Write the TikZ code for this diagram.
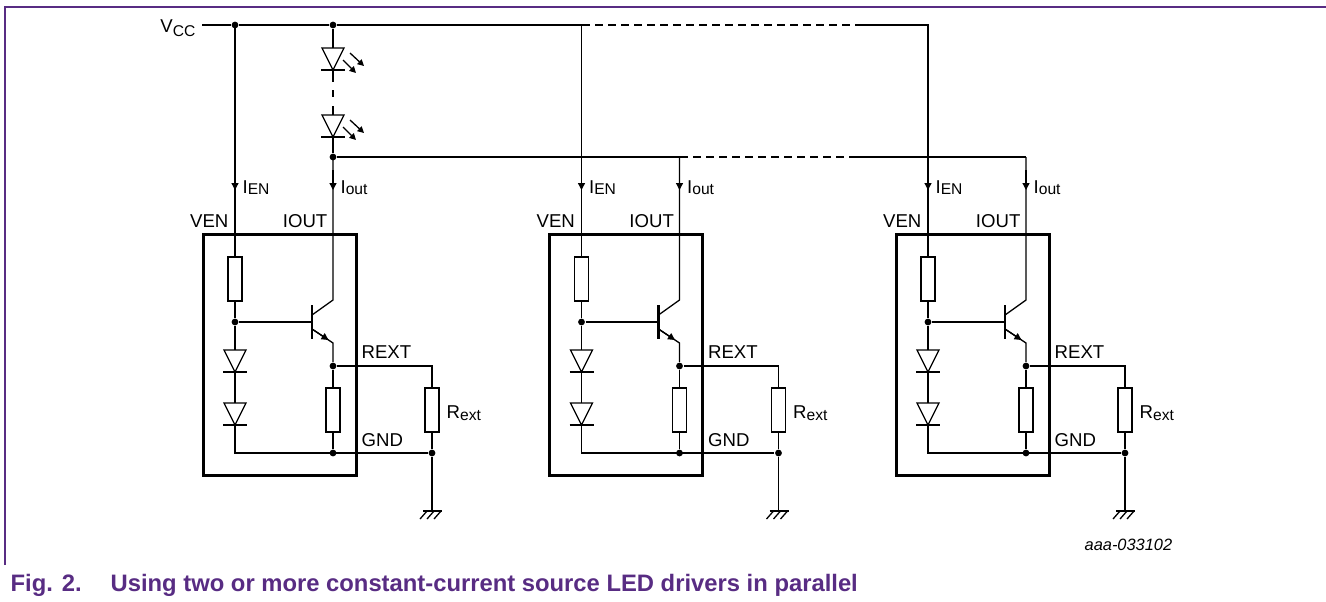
\documentclass[tikz,border=0pt]{standalone}
\usepackage{fontspec}
\setmainfont{Liberation Sans}
\usepackage{tikz}
\usepackage{xcolor}
\usetikzlibrary{arrows.meta}
\usetikzlibrary{positioning}

\newcommand{\lowsub}[2][1pt]{\raisebox{-#1}{\fontsize{7.8}{8}\selectfont #2}}

\begin{document}
\begin{tikzpicture}[x=0.5pt, y=-0.5pt, line width=0.65pt,
		chipbox/.style={line width=1.5pt},
		gapwire/.style={dash pattern=on 4pt off 2.5pt},
		resbox/.style={draw, fill=white, line width=0.65pt, minimum width=7pt, minimum height=22pt, inner sep=0pt},
		dot/.style={circle, fill, inner sep=0pt, minimum size=3.4pt},
		lbl/.style={font=\fontsize{9.3}{10}\selectfont, inner sep=0pt},
		flow/.style={-{Triangle[length=3.5pt, width=3.5pt]}},
		glow/.style={-{Triangle[length=3.2pt, width=3.2pt]}},
		diodepic/.pic={
			\draw[fill=white] (-11,0) -- (11,0) -- (0,22) -- cycle;
			\draw[line width=1.1pt] (-12,22) -- (12,22);
		},
		ledpic/.pic={
			\draw[fill=white] (-11,0) -- (11,0) -- (0,22) -- cycle;
			\draw[line width=1.1pt] (-12,22) -- (12,22);
			\draw[glow] (10,12) -- (23,25);
			\draw[glow] (17,5) -- (31,18);
		}]
	\definecolor{FIG_PURPLE}{RGB}{88, 44, 131}
	\useasboundingbox (0,0) rectangle (1326,601);

	% page frame
	\draw[FIG_PURPLE, line width=0.8pt] (5,565) -- (5,7) -- (1326,7);

	% supply rail
	\node[lbl, anchor=base east] (vcc) at (196,32) {V\lowsub[2pt]{CC}};
	\coordinate (vccend) at (202,25);
	\node[dot] (j1) at (235,25) {};
	\node[dot] (j2) at (333,25) {};
	\coordinate (v2) at (582,25);
	\coordinate (v2b) at (857,25);
	\coordinate (v3) at (928.5,25);
	\draw (vccend) -- (j1) -- (j2) -- (v2);
	\draw[gapwire] (v2) -- (v2b);
	\draw (v2b) -- (v3);

	% LED string
	\pic at (333,48) {ledpic};
	\pic at (333,115) {ledpic};
	\coordinate (led1top) at (333,48);
	\coordinate (led1bot) at (333,70);
	\coordinate (led2top) at (333,115);
	\coordinate (led2bot) at (333,136);
	\draw (j2) -- (led1top);
	\draw[dash pattern=on 6pt off 4pt on 3.5pt off 4.5pt] (led1bot) -- (led2top);
	\node[dot] (j3) at (333,157) {};
	\draw (led2bot) -- (j3);

	% LED return bus
	\coordinate (b2) at (680,157);
	\coordinate (b2b) at (857,157);
	\coordinate (b3) at (1026,157);
	\draw (j3) -- (b2);
	\draw[gapwire] (b2) -- (b2b);
	\draw (b2b) -- (b3);

	% driver units
	\foreach \u/\dx in {1/0, 2/346.5, 3/693} {
		\begin{scope}[shift={(\dx,0)}]
			\draw[chipbox] (203,234) rectangle (356,475);
			\coordinate (en\u) at (235,25);
			\coordinate (out\u) at (333,157);
			\node[resbox] (rb\u) at (235,279) {};
			\node[resbox] (re\u) at (333,410) {};
			\node[resbox] (rx\u) at (432,410) {};
			\node[dot] (nb\u) at (235,322) {};
			\node[dot] (nr\u) at (333,366) {};
			\node[dot] (ng\u) at (333,453) {};
			\node[dot] (nx\u) at (432,453) {};
			\coordinate (c\u) at (333,300);
			\coordinate (e\u) at (333,343);
			\coordinate (gnd\u) at (432,511);

			% enable branch
			\draw (en\u) -- (rb\u.north);
			\draw[flow] (235,170) -- (235,190);
			\draw (rb\u.south) -- (nb\u) -- (235,453) -- (nx\u);
			\pic at (235,350) {diodepic};
			\pic at (235,403) {diodepic};

			% transistor
			\draw (out\u) -- (c\u) -- (312,315);
			\draw[flow] (333,170) -- (333,190);
			\draw[line width=1.1pt] (312,305) -- (312,339);
			\draw (nb\u) -- (312,322);
			\draw (312,329) -- (e\u) -- (nr\u);
			\draw[flow] (312,329) -- (328.5,340);

			% sense resistors
			\draw (nr\u) -- (re\u.north);
			\draw (re\u.south) -- (ng\u);
			\draw (nr\u) -- (rx\u.north |- nr\u) -- (rx\u.north);
			\draw (rx\u.south) -- (nx\u);

			% ground
			\draw (nx\u) -- (gnd\u);
			\draw (423,511) -- (442,511);
			\draw (427,511) -- (420,519) (434,511) -- (427,519) (441,511) -- (434,519);

			% labels
			\node[lbl, anchor=base west] (ien\u) at (242,193) {I\lowsub[0.6pt]{EN}};
			\node[lbl, anchor=base west] (iou\u) at (340,193) {I\lowsub[0.6pt]{out}};
			\node[lbl, anchor=base east] (ven\u) at (229,227) {VEN};
			\node[lbl, anchor=base east] (iout\u) at (328,227) {IOUT};
			\node[lbl, anchor=base west] (rext\u) at (361,358) {REXT};
			\node[lbl, anchor=base west] (gnd\u) at (361,446) {GND};
			\node[lbl, anchor=base west] (rxl\u) at (446,418) {R\lowsub[1pt]{ext}};
		\end{scope}
	}

	% figure id and caption
	\node[anchor=base west, inner sep=0pt, font=\itshape\fontsize{8.2}{9}\selectfont] (figid) at (1084,550) {aaa-033102};
	\node[anchor=base west, inner sep=0pt, text=FIG_PURPLE, font=\bfseries\fontsize{11.9}{13}\selectfont] (fignum) at (10,591) {Fig. 2.};
	\node[anchor=base west, inner sep=0pt, text=FIG_PURPLE, font=\bfseries\fontsize{11.9}{13}\selectfont] (figtitle) at (110,591) {Using two or more constant-current source LED drivers in parallel};
\end{tikzpicture}
\end{document}
